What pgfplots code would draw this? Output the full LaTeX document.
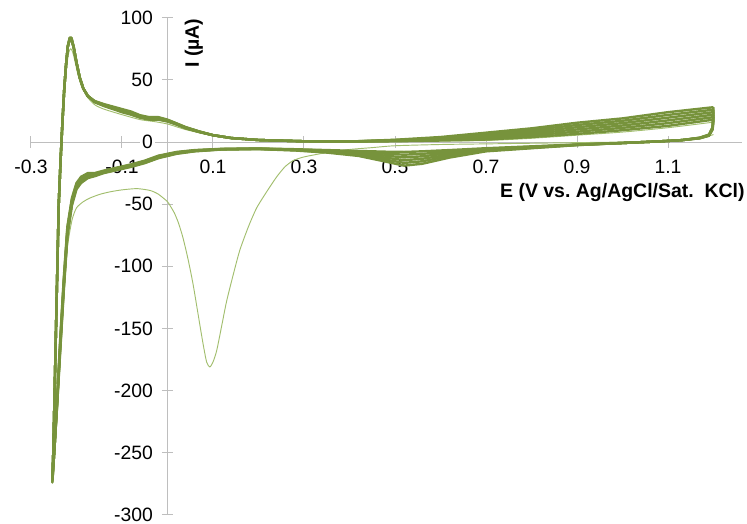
\documentclass[border=0pt]{standalone}
\usepackage{pgfplots}
\usepackage{pgfplotstable}
\pgfplotsset{compat=1.18}
\usepackage{fontspec}
\setmainfont{Liberation Sans}
\frenchspacing
\definecolor{bandgreen}{HTML}{77933C}
\definecolor{firstgreen}{HTML}{A2BE6E}
\definecolor{axisgray}{HTML}{BEBEBE}
\newcommand{\ticks}{\fontsize{14.5}{17}\selectfont}
\newcommand{\labs}{\fontsize{14.6}{17}\selectfont\bfseries}

\pgfplotstableread{
x y0 y1 y2 y3 y4 y5
1.200 18 20 22 24 26 28
1.198 10 10.4 10.8 11.2 11.6 12
1.190 5 5.2 5.4 5.6 5.8 6
1.170 3 3.1 3.2 3.3 3.4 3.5
1.130 1.5 1.5 1.5 1.5 1.5 1.5
1.080 0.5 0.5 0.5 0.5 0.5 0.5
1.000 -0.8 -0.8 -0.8 -0.8 -0.8 -0.8
0.900 -2 -2.1 -2.2 -2.3 -2.4 -2.5
0.800 -3.5 -3.8 -4.1 -4.4 -4.7 -5
0.700 -5 -5.5 -6 -6.5 -7 -7.5
0.620 -6.5 -7.7 -8.9 -10.1 -11.3 -12.5
0.560 -7.5 -9.5 -11.5 -13.5 -15.5 -17.5
0.520 -8 -10.2 -12.4 -14.6 -16.8 -19
0.480 -7.8 -9.4 -11 -12.6 -14.2 -15.8
0.420 -7.2 -8 -8.8 -9.6 -10.4 -11.2
0.350 -6.5 -6.9 -7.3 -7.7 -8.1 -8.5
0.280 -5.8 -6 -6.2 -6.4 -6.6 -6.8
0.200 -5.2 -5.3 -5.4 -5.5 -5.6 -5.7
0.120 -5.5 -5.6 -5.7 -5.8 -5.9 -6
0.060 -6.5 -6.7 -6.9 -7.1 -7.3 -7.5
0.020 -8 -8.3 -8.6 -8.9 -9.2 -9.5
-0.020 -11 -11.4 -11.8 -12.2 -12.6 -13
-0.050 -15 -15.4 -15.8 -16.2 -16.6 -17
-0.080 -18 -18.4 -18.8 -19.2 -19.6 -20
-0.110 -20.5 -20.9 -21.3 -21.7 -22.1 -22.5
-0.140 -23 -23.4 -23.8 -24.2 -24.6 -25
-0.160 -25 -25.5 -26 -26.5 -27 -27.5
-0.175 -25 -25.8 -26.6 -27.4 -28.2 -29
-0.190 -28 -29 -30 -31 -32 -33
-0.200 -33 -34 -35 -36 -37 -38
-0.210 -45 -46.2 -47.4 -48.6 -49.8 -51
-0.220 -68 -69.6 -71.2 -72.8 -74.4 -76
-0.228 -110 -112 -114 -116 -118 -120
-0.236 -160 -162 -164 -166 -168 -170
-0.243 -210 -211 -212 -213 -214 -215
-0.249 -250 -250 -250 -250 -250 -250
-0.253 -274 -273.2 -272.4 -271.6 -270.8 -270
-0.251 -250 -250 -250 -250 -250 -250
-0.248 -200 -200 -200 -200 -200 -200
-0.245 -150 -150 -150 -150 -150 -150
-0.242 -100 -100 -100 -100 -100 -100
-0.239 -50 -50 -50 -50 -50 -50
-0.235 -15 -15 -15 -15 -15 -15
-0.231 15 15 15 15 15 15
-0.227 42 42 42 42 42 42
-0.223 62 62 62 62 62 62
-0.219 77 77 77 77 77 77
-0.215 82 82.4 82.8 83.2 83.6 84
-0.211 82 82.4 82.8 83.2 83.6 84
-0.206 76 76 76 76 76 76
-0.200 64 64 64 64 64 64
-0.193 52 52 52 52 52 52
-0.185 43 43 43 43 43 43
-0.175 37 37 37 37 37 37
-0.160 32 32.2 32.4 32.6 32.8 33
-0.140 29 29.3 29.6 29.9 30.2 30.5
-0.120 26.5 26.9 27.3 27.7 28.1 28.5
-0.100 24 24.5 25 25.5 26 26.5
-0.080 22 22.5 23 23.5 24 24.5
-0.060 19.5 19.9 20.3 20.7 21.1 21.5
-0.040 18 18.4 18.8 19.2 19.6 20
-0.020 18 18.4 18.8 19.2 19.6 20
0.000 16.5 16.8 17.1 17.4 17.7 18
0.020 14 14.2 14.4 14.6 14.8 15
0.040 11 11.2 11.4 11.6 11.8 12
0.070 8 8.1 8.2 8.3 8.4 8.5
0.100 5.5 5.5 5.5 5.5 5.5 5.5
0.140 3.2 3.2 3.2 3.2 3.2 3.2
0.200 1.6 1.6 1.6 1.6 1.6 1.6
0.300 0.6 0.6 0.6 0.6 0.6 0.6
0.400 0.4 0.4 0.4 0.4 0.4 0.4
0.500 0.6 0.84 1.08 1.32 1.56 1.8
0.600 1.2 1.76 2.32 2.88 3.44 4
0.700 2 3.1 4.2 5.3 6.4 7.5
0.800 4 5.4 6.8 8.2 9.6 11
0.900 6.5 8.3 10.1 11.9 13.7 15.5
1.000 9.5 11.4 13.3 15.2 17.1 19
1.100 13 15.2 17.4 19.6 21.8 24
1.200 18 20 22 24 26 28
}\cycles

\pgfplotstableread{
x y
1.200 6
1.170 3
1.120 1
1.000 0
0.900 -0.5
0.800 -1
0.700 -1.5
0.600 -2
0.500 -3
0.450 -4.5
0.400 -6
0.350 -8.5
0.300 -12
0.276 -15
0.258 -20
0.240 -28
0.218 -40
0.196 -53
0.178 -68
0.159 -87
0.145 -106
0.130 -128
0.118 -150
0.108 -168
0.100 -177
0.093 -181
0.086 -177
0.078 -162
0.067 -138
0.056 -114
0.045 -94
0.034 -77
0.024 -65
0.015 -57
0.007 -52
0.000 -48
-0.020 -42
-0.038 -39
-0.067 -37.5
-0.100 -38.5
-0.125 -40
-0.148 -42
-0.170 -45
-0.185 -48
-0.200 -53
-0.210 -63
-0.220 -85
-0.228 -125
-0.236 -175
-0.243 -220
-0.249 -255
-0.253 -272
-0.251 -250
-0.248 -200
-0.245 -150
-0.242 -100
-0.239 -50
-0.235 -15
-0.231 13
-0.226 42
-0.221 62
-0.217 72
-0.213 75
-0.209 73
-0.204 66
-0.198 56
-0.190 46
-0.178 37
-0.160 30
-0.140 26.5
-0.100 22
-0.060 18
-0.030 16.5
0.000 14.5
0.040 10
0.100 5
0.140 3
0.200 1.5
0.300 0.5
0.500 0.3
0.600 0.8
0.700 1.2
0.800 3
0.900 5.5
1.000 8
1.100 11.5
1.200 16
}\first

\begin{document}
\begin{tikzpicture}
\begin{axis}[
  scale only axis, width=533.3pt, height=372.8pt,
  xmin=-0.3, xmax=1.263, ymin=-300, ymax=100,
  axis lines=middle,
  axis line style={-, draw=axisgray, line width=0.75pt},
  xtick={-0.3,-0.1,0.1,0.3,0.5,0.7,0.9,1.1},
  xticklabels={-0.3,-0.1,0.1,0.3,0.5,0.7,0.9,1.1},
  ytick={-300,-250,-200,-150,-100,-50,0,50,100},
  yticklabels={-300,-250,-200,-150,-100,-50,0,50,100},
  hide obscured x ticks=false, hide obscured y ticks=false,
  tick align=center, major tick length=8.5pt,
  tick style={draw=axisgray, line width=0.75pt},
  xticklabel style={font=\ticks, anchor=north, inner sep=0pt, yshift=-9pt},
  yticklabel style={font=\ticks, anchor=east, inner sep=1.5pt, fill=white, xshift=-5pt},
  clip=false,
]
\path (axis cs:-0.3681,114.27) (axis cs:1.2736,-306.7);
\addplot[firstgreen, line width=0.7pt, line join=round, smooth, tension=0.4] table[x=x,y=y] {\first};
\foreach \c in {y0,y1,y2,y3,y4,y5} {
  \addplot[bandgreen, line width=1.8pt, line join=round] table[x=x,y=\c] {\cycles};
}
\node[font=\labs, anchor=east, inner sep=0pt] at (axis cs:1.269,-40.6) {E (V vs. Ag/AgCl/Sat.\ \ KCl)};
\node[font=\labs, rotate=90, inner sep=0pt] at (axis cs:0.058,79.6) {I (µA)};
\end{axis}
\end{tikzpicture}
\end{document}
